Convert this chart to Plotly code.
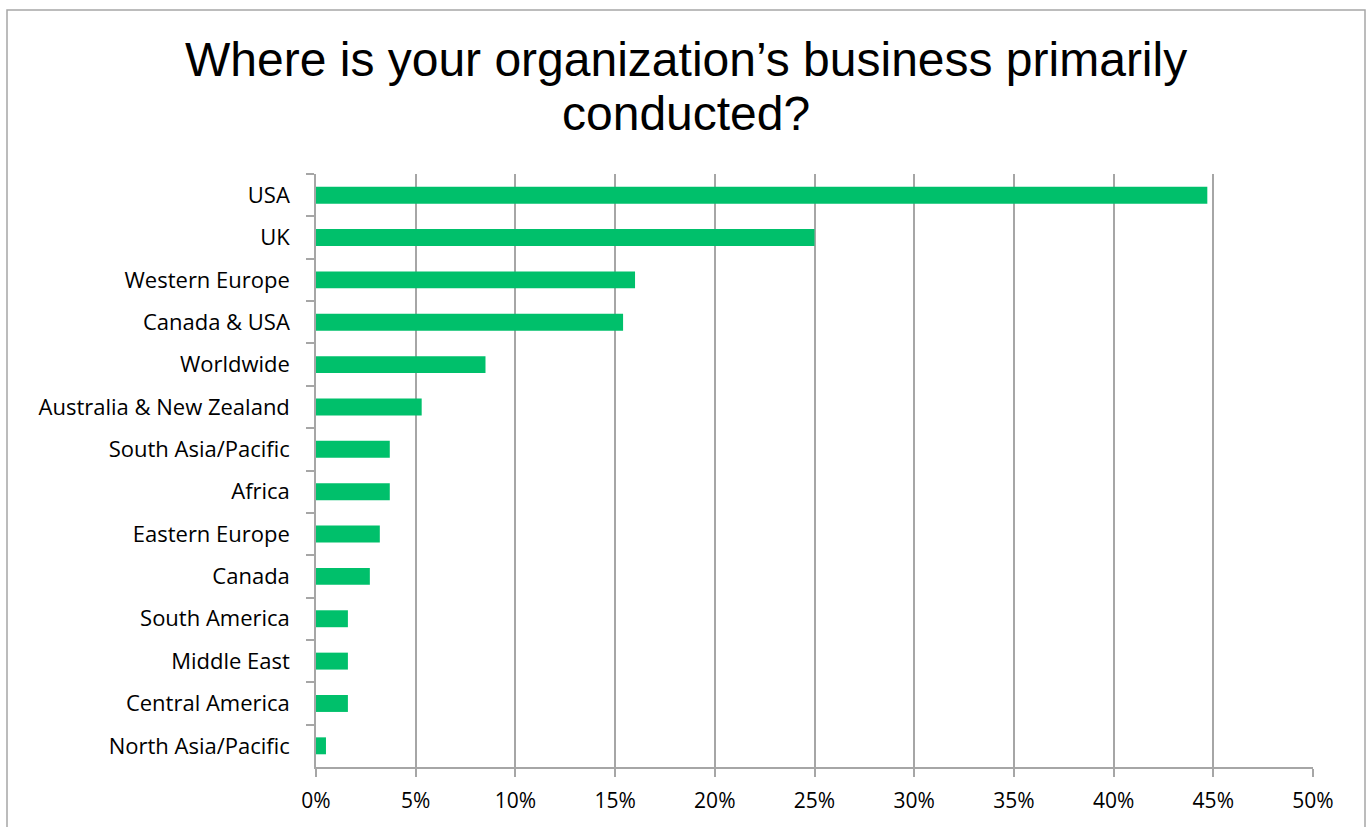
import plotly.graph_objects as go

# Survey responses: share of organizations by primary business region
regions = [
    "USA", "UK", "Western Europe", "Canada & USA", "Worldwide",
    "Australia & New Zealand", "South Asia/Pacific", "Africa",
    "Eastern Europe", "Canada", "South America", "Middle East",
    "Central America", "North Asia/Pacific",
]
shares = [
    0.447, 0.250, 0.160, 0.154, 0.085, 0.053, 0.037, 0.037,
    0.032, 0.027, 0.016, 0.016, 0.016, 0.005,
]
x_ticks = [0, 0.05, 0.10, 0.15, 0.20, 0.25, 0.30, 0.35, 0.40, 0.45, 0.50]
title_lines = ["Where is your organization\u2019s business primarily", "conducted?"]

W, H = 1372, 827
L, R, T, B = 316, 59, 174, 60
pw, ph = W - L - R, H - T - B

GRID = "#A6A6A6"
BAR = "#00C06B"
X_FONT = dict(family="Open Sans, Lato, sans-serif", size=21, color="#000000")
Y_FONT = dict(family="Open Sans, Lato, sans-serif", size=22, color="#000000")
TITLE_FONT = dict(family="Liberation Sans, Arial, sans-serif", size=48, color="#000000")

fig = go.Figure(
    go.Bar(
        x=shares,
        y=regions,
        orientation="h",
        marker=dict(color=BAR, line=dict(width=0)),
        width=0.4,
        hoverinfo="x+y",
    )
)

fig.update_layout(
    width=W,
    height=H,
    margin=dict(l=L, r=R, t=T, b=B, pad=0),
    paper_bgcolor="white",
    plot_bgcolor="white",
    showlegend=False,
    xaxis=dict(
        range=[0, 0.5],
        tickvals=x_ticks,
        tickformat=".0%",
        showgrid=True,
        gridcolor=GRID,
        gridwidth=1.5,
        showline=True,
        linecolor=GRID,
        linewidth=1.5,
        ticks="outside",
        ticklen=8,
        tickwidth=1.5,
        tickcolor=GRID,
        ticklabelstandoff=6,
        tickfont=X_FONT,
        zeroline=False,
        fixedrange=True,
    ),
    yaxis=dict(
        type="category",
        categoryorder="array",
        categoryarray=regions,
        autorange="reversed",
        showline=True,
        linecolor=GRID,
        linewidth=1.5,
        ticks="outside",
        tickson="boundaries",
        ticklen=8,
        tickwidth=1.5,
        tickcolor=GRID,
        ticklabelstandoff=20,
        tickfont=Y_FONT,
        showgrid=False,
        fixedrange=True,
    ),
)

# Two-line chart title, set as separate lines for tight leading
for text, y_px in zip(title_lines, [59, 113]):
    fig.add_annotation(
        text=text,
        xref="paper",
        yref="paper",
        x=(W / 2 - L) / pw,
        y=(H - B - y_px) / ph,
        xanchor="center",
        yanchor="middle",
        showarrow=False,
        font=TITLE_FONT,
    )

# Outer chart frame
fig.add_shape(
    type="rect",
    xref="paper",
    yref="paper",
    x0=(7 - L) / pw,
    x1=(1365 - L) / pw,
    y0=(H - B - 840) / ph,
    y1=(H - B - 10) / ph,
    line=dict(color=GRID, width=1.5),
    fillcolor="rgba(0,0,0,0)",
    layer="below",
)

fig.write_html("out.html")
